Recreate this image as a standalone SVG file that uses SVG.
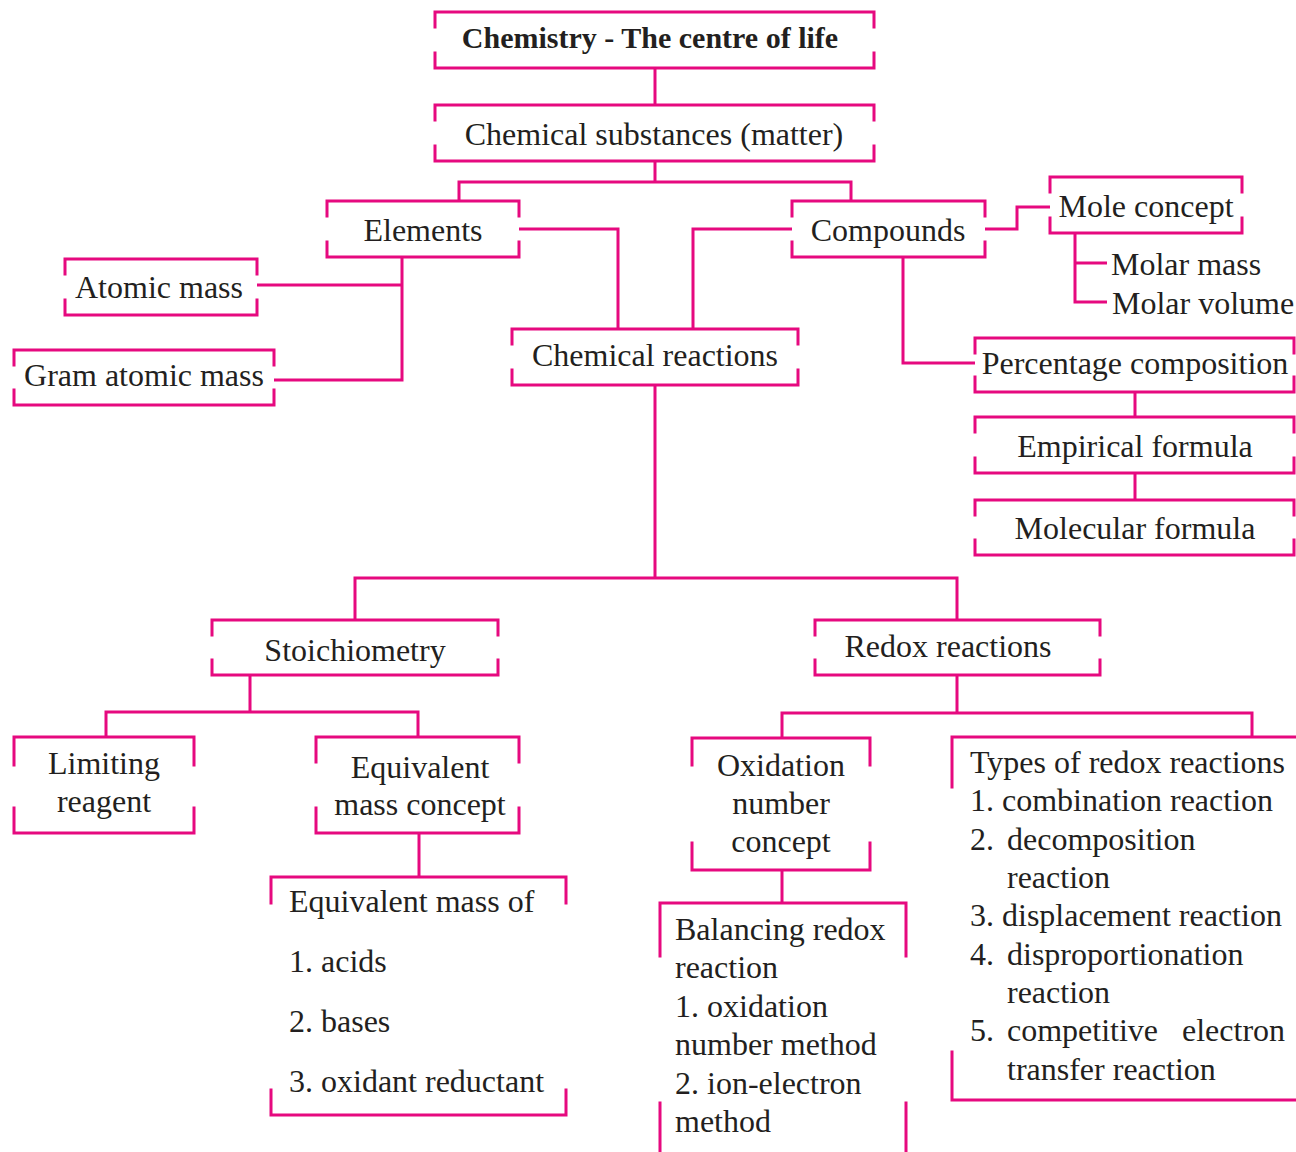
<svg xmlns="http://www.w3.org/2000/svg" width="1296" height="1152" viewBox="0 0 1296 1152">
<style>
.bx{fill:none;stroke:#E6097F;stroke-width:3;stroke-linecap:square}
.cn{fill:none;stroke:#E6097F;stroke-width:3;stroke-linejoin:miter}
text{font-family:"Liberation Serif","Times New Roman",serif;font-size:32px;fill:#231F20}
.c{text-anchor:middle}
.b{font-weight:bold;font-size:30px}
</style>
<rect width="1296" height="1152" fill="#ffffff"/>
<g id="connectors">
<path class="cn" d="M655 68V105"/>
<path class="cn" d="M655 161V182M459 201V182H851V201"/>
<path class="cn" d="M519 229H618V329"/>
<path class="cn" d="M792 229H693V329"/>
<path class="cn" d="M402 257V380H274M257 285H402"/>
<path class="cn" d="M985 229H1017V207H1050"/>
<path class="cn" d="M1075 233V302H1107M1075 263H1107"/>
<path class="cn" d="M903 257V363H975"/>
<path class="cn" d="M1135 392V417M1135 473V500"/>
<path class="cn" d="M655 385V578M355 620V578H957V620"/>
<path class="cn" d="M250 675V712M106 737V712H418V737"/>
<path class="cn" d="M419 833V877"/>
<path class="cn" d="M957 675V713M782 738V713H1252V737"/>
<path class="cn" d="M782 870V903"/>
</g>
<g id="n-chemistry">
<path class="bx" d="M435 27V12H874V27M435 53V68H874V53"/>
<text class="c b" x="650" y="48">Chemistry - The centre of life</text>
</g>
<g id="n-substances">
<path class="bx" d="M435 120V105H874V120M435 146V161H874V146"/>
<text class="c" x="654" y="145">Chemical substances (matter)</text>
</g>
<g id="n-elements">
<path class="bx" d="M327 216V201H519V216M327 242V257H519V242"/>
<text class="c" x="423" y="241">Elements</text>
</g>
<g id="n-compounds">
<path class="bx" d="M792 216V201H985V216M792 242V257H985V242"/>
<text class="c" x="888" y="241">Compounds</text>
</g>
<g id="n-atomic-mass">
<path class="bx" d="M65 274V259H257V274M65 300V315H257V300"/>
<text class="c" x="159" y="298">Atomic mass</text>
</g>
<g id="n-gram-atomic-mass">
<path class="bx" d="M14 365V350H274V365M14 390V405H274V390"/>
<text class="c" x="144" y="386">Gram atomic mass</text>
</g>
<g id="n-chemical-reactions">
<path class="bx" d="M512 344V329H798V344M512 370V385H798V370"/>
<text class="c" x="655" y="366">Chemical reactions</text>
</g>
<g id="n-mole-concept">
<path class="bx" d="M1050 192V177H1242V192M1050 218V233H1242V218"/>
<text class="c" x="1146" y="217">Mole concept</text>
</g>
<g id="n-molar-mass">
<text x="1111" y="275">Molar mass</text>
</g>
<g id="n-molar-volume">
<text x="1112" y="314">Molar volume</text>
</g>
<g id="n-percentage">
<path class="bx" d="M975 353V338H1294V353M975 377V392H1294V377"/>
<text class="c" x="1135" y="374">Percentage composition</text>
</g>
<g id="n-empirical">
<path class="bx" d="M975 432V417H1294V432M975 458V473H1294V458"/>
<text class="c" x="1135" y="457">Empirical formula</text>
</g>
<g id="n-molecular">
<path class="bx" d="M975 515V500H1294V515M975 540V555H1294V540"/>
<text class="c" x="1135" y="539">Molecular formula</text>
</g>
<g id="n-stoichiometry">
<path class="bx" d="M212 635V620H498V635M212 660V675H498V660"/>
<text class="c" x="355" y="661">Stoichiometry</text>
</g>
<g id="n-redox">
<path class="bx" d="M815 635V620H1100V635M815 660V675H1100V660"/>
<text class="c" x="948" y="657">Redox reactions</text>
</g>
<g id="n-limiting">
<path class="bx" d="M14 765V737H194V765M14 808V833H194V808"/>
<text class="c" x="104" y="774">Limiting</text>
<text class="c" x="104" y="812">reagent</text>
</g>
<g id="n-equivalent-mass-concept">
<path class="bx" d="M316 762V737H519V762M316 808V833H519V808"/>
<text class="c" x="420" y="778">Equivalent</text>
<text class="c" x="420" y="815">mass concept</text>
</g>
<g id="n-equivalent-mass-of">
<path class="bx" d="M271 903V877H566V903M271 1090V1115H566V1090"/>
<text x="289" y="912">Equivalent mass of</text>
<text x="289" y="972">1. acids</text>
<text x="289" y="1032">2. bases</text>
<text x="289" y="1092">3. oxidant reductant</text>
</g>
<g id="n-oxidation-number">
<path class="bx" d="M692 765V738H870V765M692 843V870H870V843"/>
<text class="c" x="781" y="776">Oxidation</text>
<text class="c" x="781" y="814">number</text>
<text class="c" x="781" y="852">concept</text>
</g>
<g id="n-balancing">
<path class="bx" d="M660 956V903H906V956M660 1103V1160M906 1103V1160"/>
<text x="675" y="940">Balancing redox</text>
<text x="675" y="978">reaction</text>
<text x="675" y="1017">1. oxidation</text>
<text x="675" y="1055">number method</text>
<text x="675" y="1094">2. ion-electron</text>
<text x="675" y="1132">method</text>
</g>
<g id="n-types-redox">
<path class="bx" d="M952 787V737H1300M952 1052V1100H1300"/>
<text x="970" y="773">Types of redox reactions</text>
<text x="970" y="811">1. combination reaction</text>
<text x="970" y="850">2.</text>
<text x="1007" y="850">decomposition</text>
<text x="1007" y="888">reaction</text>
<text x="970" y="926">3. displacement reaction</text>
<text x="970" y="965">4.</text>
<text x="1007" y="965">disproportionation</text>
<text x="1007" y="1003">reaction</text>
<text x="970" y="1041">5.</text>
<text x="1007" y="1041">competitive</text>
<text x="1182" y="1041">electron</text>
<text x="1007" y="1080">transfer reaction</text>
</g>
</svg>
